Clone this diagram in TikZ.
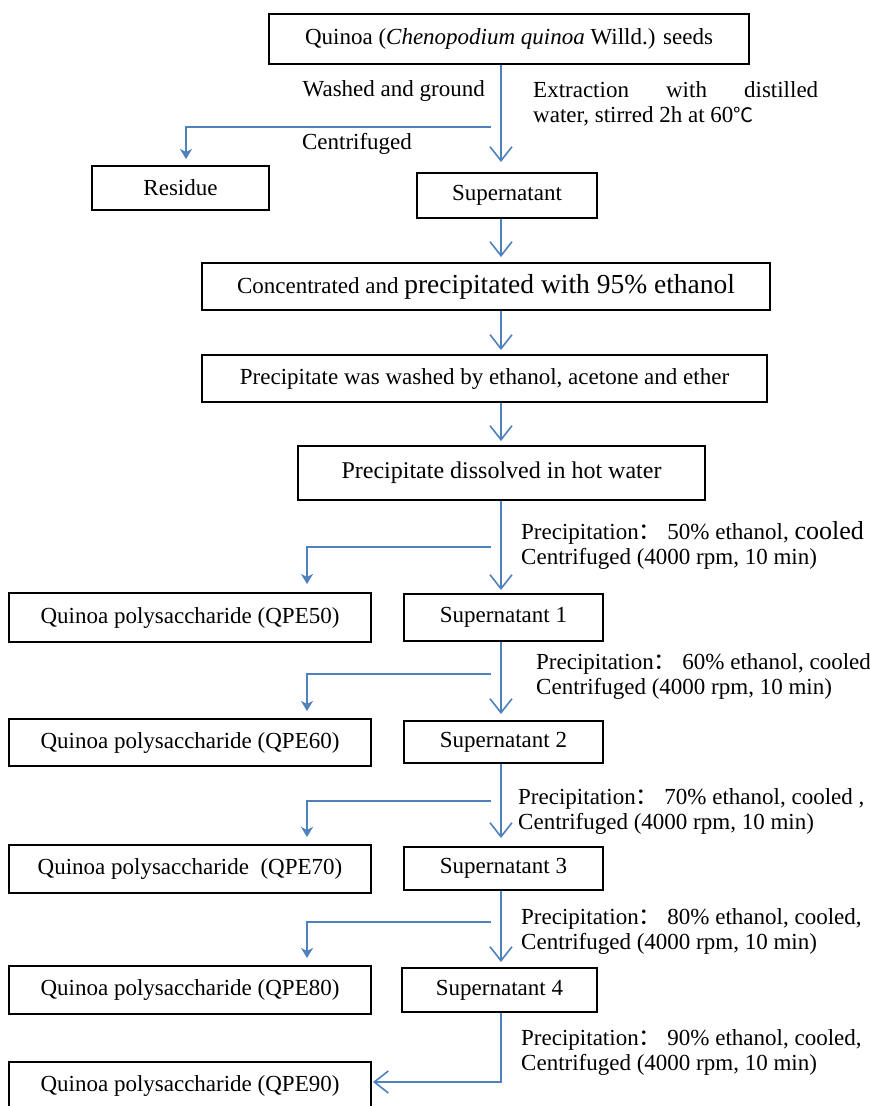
\documentclass[tikz,border=0pt]{standalone}
\usepackage{fontspec}
\setmainfont{Liberation Serif}
\newfontfamily\cjk{Noto Sans CJK SC}
\usetikzlibrary{arrows.meta}
\definecolor{arrowblue}{RGB}{79,129,189}
\begin{document}
\begin{tikzpicture}[x=1pt,y=-1pt,
  box/.style={draw=black, line width=2pt, rectangle, inner sep=0pt, font=\fontsize{23}{28}\selectfont},
  main/.style={draw=arrowblue, line width=1.6pt, -{Straight Barb[length=14pt,width=22pt]}},
  side/.style={draw=arrowblue, line width=1.6pt, -{Stealth[length=10pt,width=12pt,inset=3pt]}},
  lab/.style={font=\fontsize{23}{25}\selectfont, inner sep=0pt, align=left}]
\useasboundingbox (0,0) rectangle (870,1106);
\fill[white] (0,0) rectangle (870,1106);
% boxes
\node[box, minimum width=480pt, minimum height=50pt] (top) at (509,39) {Quinoa (\textit{Chenopodium quinoa} Willd.) seeds};
\node[box, minimum width=177pt, minimum height=44pt] (res) at (180.5,188) {Residue};
\node[box, minimum width=180pt, minimum height=45pt] (sup) at (507,195.5) {Supernatant};
\node[box, minimum width=568pt, minimum height=47pt] (conc) at (486,286.5) {Concentrated and {\fontsize{27.5}{30}\selectfont precipitated with 95\% ethanol}};
\node[box, minimum width=565pt, minimum height=47pt] (wash) at (484.5,378.5) {Precipitate was washed by ethanol, acetone and ether};
\node[box, minimum width=407pt, minimum height=54pt] (diss) at (501.5,473) {\fontsize{24}{28}\selectfont Precipitate dissolved in hot water};
\node[box, minimum width=362pt, minimum height=49pt] (q50) at (190,617.5) {Quinoa polysaccharide (QPE50)};
\node[box, minimum width=199pt, minimum height=47pt] (s1) at (503.5,617.5) {Supernatant 1};
\node[box, minimum width=362pt, minimum height=47pt] (q60) at (190,742.5) {Quinoa polysaccharide (QPE60)};
\node[box, minimum width=199pt, minimum height=42pt] (s2) at (503.5,742) {Supernatant 2};
\node[box, minimum width=362pt, minimum height=48pt] (q70) at (190,869) {Quinoa polysaccharide\ \ (QPE70)};
\node[box, minimum width=199pt, minimum height=43pt] (s3) at (503.5,868.5) {Supernatant 3};
\node[box, minimum width=362pt, minimum height=48pt] (q80) at (190,990) {Quinoa polysaccharide (QPE80)};
\node[box, minimum width=195pt, minimum height=44pt] (s4) at (499.5,990) {Supernatant 4};
\node[box, minimum width=362pt, minimum height=48pt] (q90) at (190,1086) {Quinoa polysaccharide (QPE90)};
% trunk x position
\coordinate (xA) at (501,0);
% connectors
\draw[main, shorten >=10pt] (top.south -| xA) -- (sup.north -| xA);
\coordinate (b0) at (491,127);
\draw[side, shorten >=6pt] (b0) -| ([xshift=5.5pt]res.north);
\draw[main, shorten >=5pt] (sup.south -| xA) -- (conc.north -| xA);
\draw[main, shorten >=4pt] (conc.south -| xA) -- (wash.north -| xA);
\draw[main, shorten >=4pt] (wash.south -| xA) -- (diss.north -| xA);
\draw[main, shorten >=3pt] (diss.south -| xA) -- (s1.north -| xA);
\coordinate (b1) at (491,547);
\draw[side, shorten >=8pt] (b1) -| ([xshift=117pt]q50.north);
\draw[main, shorten >=6pt] (s1.south -| xA) -- (s2.north -| xA);
\coordinate (b2) at (491,674);
\draw[side, shorten >=7pt] (b2) -| ([xshift=117pt]q60.north);
\draw[main, shorten >=8pt] (s2.south -| xA) -- (s3.north -| xA);
\coordinate (b3) at (491,801);
\draw[side, shorten >=7pt] (b3) -| ([xshift=117pt]q70.north);
\draw[main, shorten >=5pt] (s3.south -| xA) -- (s4.north -| xA);
\coordinate (b4) at (491,922);
\draw[side, shorten >=7pt] (b4) -| ([xshift=117pt]q80.north);
\draw[main, shorten >=1pt] (s4.south -| xA) |- ([yshift=4pt]q90.east);
% labels
\node[lab, anchor=base east] (l1) at (485,96) {Washed and ground};
\node[lab, anchor=base west, text width=285pt, align=justify] (l2) at (533,97) {Extraction with distilled\linebreak water, stirred 2h at 60{\cjk\fontsize{20}{25}\selectfont ℃}};
\node[lab, anchor=base] (l3) at (357,149) {Centrifuged};
\node[lab, anchor=base west] (p50) at (521,564) {Precipitation{\cjk ：} 50\% ethanol, {\fontsize{26}{25}\selectfont cooled}\\Centrifuged (4000 rpm, 10 min)};
\node[lab, anchor=base west] (p60) at (536,694) {Precipitation{\cjk ：} 60\% ethanol, cooled\\Centrifuged (4000 rpm, 10 min)};
\node[lab, anchor=base west] (p70) at (518,829) {Precipitation{\cjk ：} 70\% ethanol, cooled ,\\Centrifuged (4000 rpm, 10 min)};
\node[lab, anchor=base west] (p80) at (521,949) {Precipitation{\cjk ：} 80\% ethanol, cooled,\\Centrifuged (4000 rpm, 10 min)};
\node[lab, anchor=base west] (p90) at (521,1070) {Precipitation{\cjk ：} 90\% ethanol, cooled,\\Centrifuged (4000 rpm, 10 min)};
\end{tikzpicture}
\end{document}
